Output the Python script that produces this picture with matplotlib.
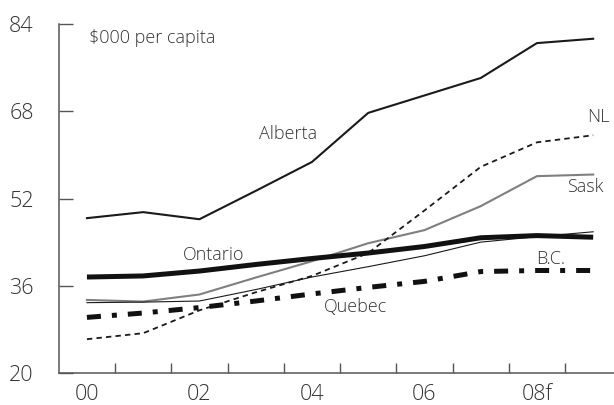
import matplotlib
matplotlib.use("Agg")
import matplotlib.pyplot as plt
import numpy as np

plt.rcParams["font.family"] = ["Open Sans", "DejaVu Sans"]
plt.rcParams["font.weight"] = "light"

years = ["00", "01", "02", "03", "04", "05", "06", "07", "08f", "09f"]
tick_labels = ["00", "02", "04", "06", "08f"]

alberta = [48.4, 49.5, 48.2, 53.4, 58.7, 67.7, 70.9, 74.1, 80.5, 81.3]
ontario = [37.6, 37.8, 38.7, 39.9, 41.0, 42.0, 43.2, 44.8, 45.2, 44.9]
bc = [32.9, 33.0, 33.2, 35.3, 37.6, 39.5, 41.5, 44.0, 45.0, 45.9]
sask = [33.4, 33.1, 34.4, 37.5, 40.5, 43.8, 46.2, 50.6, 56.1, 56.4]
nl = [26.2, 27.3, 31.5, 34.8, 37.8, 42.0, 49.8, 57.8, 62.3, 63.6]
quebec = [30.2, 31.0, 32.0, 33.2, 34.5, 35.7, 36.8, 38.6, 38.8, 38.8]

x = np.arange(len(years))
ink = "#333333"

fig = plt.figure(figsize=(6.14, 4.05), dpi=100)
ax = fig.add_axes([0.0958, 0.079, 0.9042, 0.8617])

ax.plot(x, alberta, color="#1a1a1a", lw=1.5)
ax.plot(x, sask, color="#7f7f7f", lw=1.5)
ax.plot(x, bc, color="#1a1a1a", lw=0.8)
ax.plot(x, nl, color="#1a1a1a", lw=1.3, linestyle=(0, (3.0, 2.3)))
ax.plot(x, quebec, color="#111111", lw=3.6, linestyle=(0, (2.8, 2.2, 1.0, 2.2)),
        solid_capstyle="butt", dash_capstyle="butt")
ax.plot(x, ontario, color="#111111", lw=3.6, solid_capstyle="butt")

lab = dict(fontsize=13, color=ink, ha="center", va="center")
ax.text(3.57, 63.8, "Alberta", **lab)
ax.text(9.09, 66.9, "NL", **lab)
ax.text(8.86, 54.1, "Sask", **lab)
ax.text(2.26, 41.6, "Ontario", **lab)
ax.text(8.25, 40.9, "B.C.", **lab)
ax.text(4.78, 32.1, "Quebec", **lab)
ax.text(0.04, 81.4, "$000 per capita", fontsize=13, color=ink, ha="left", va="center")

ax.set_xlim(-0.5, 9.37)
ax.set_ylim(20, 84)
for s in ["top", "right"]:
    ax.spines[s].set_visible(False)
for s in ["left", "bottom"]:
    ax.spines[s].set_color("#555555")
    ax.spines[s].set_linewidth(1.1)

ax.set_yticks([20, 36, 52, 68, 84])
ax.tick_params(axis="y", direction="in", length=10, width=1.0, color="#555555",
               pad=18, labelsize=15.5, labelcolor=ink)
ax.set_xticks(x[:-1] + 0.5)
ax.set_xticklabels([])
ax.tick_params(axis="x", which="major", direction="in", length=7, width=1.0,
               color="#555555")
ax.set_xticks(x[::2], minor=True)
ax.set_xticklabels(tick_labels, minor=True)
ax.tick_params(axis="x", which="minor", length=0, pad=8, labelsize=15.5,
               labelcolor=ink)

fig.savefig("out.png", dpi=100)
